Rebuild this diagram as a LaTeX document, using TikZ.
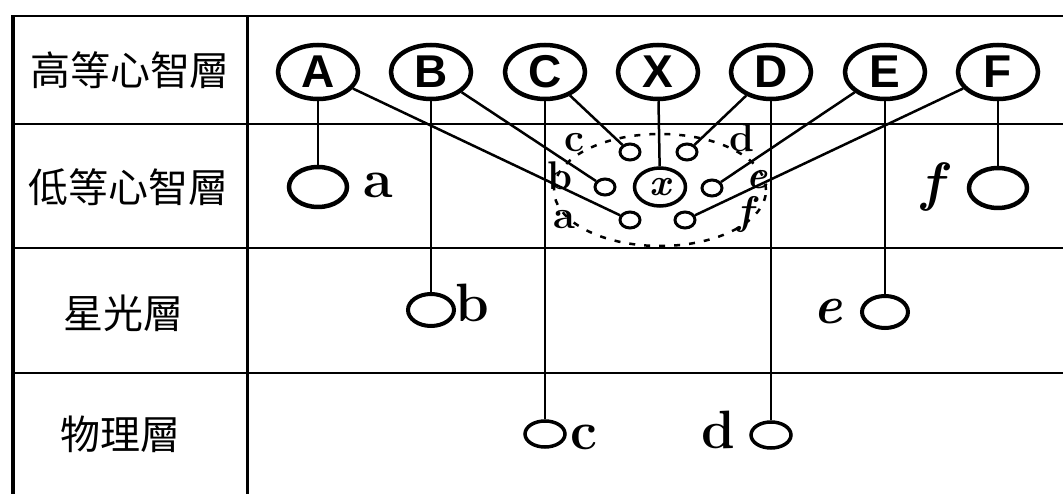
\documentclass[tikz,border=0pt]{standalone}
\usepackage{fontspec}
\newfontfamily\cjk{Noto Sans CJK TC}
\newfontfamily\capsf{Liberation Sans}
\usetikzlibrary{shapes.geometric}

\begin{document}
\begin{tikzpicture}[x=1pt,y=-1pt,
  big/.style={ellipse,draw,line width=4.5pt,minimum width=80pt,minimum height=54pt,inner sep=0pt,font=\capsf\bfseries\fontsize{46}{46}\selectfont},
  mid/.style={ellipse,draw,line width=4.5pt,minimum width=58pt,minimum height=40pt,inner sep=0pt},
  low/.style={ellipse,draw,line width=4pt,minimum width=46pt,minimum height=32pt,inner sep=0pt},
  bot/.style={ellipse,draw,line width=3.5pt,minimum width=40pt,minimum height=26pt,inner sep=0pt},
  tiny/.style={ellipse,draw,line width=3pt,minimum width=20pt,minimum height=16pt,inner sep=0pt},
  hub/.style={ellipse,draw,line width=3.5pt,minimum width=51pt,minimum height=38pt,inner sep=0pt,font=\bfseries\itshape\fontsize{38}{38}\selectfont},
  lbl/.style={inner sep=0pt,font=\bfseries\fontsize{54}{54}\selectfont},
  slbl/.style={inner sep=0pt,font=\bfseries\fontsize{40}{40}\selectfont},
  layer/.style={inner sep=0pt,font=\cjk\fontsize{40}{40}\selectfont},
  wire/.style={line width=2.5pt}]

  \useasboundingbox (0,0) rectangle (1063,494);

  % table
  \draw[line width=2.5pt] (11,16) -- (1063,16);
  \foreach \y in {124,248,373}
    \draw[line width=2.5pt] (13,\y) -- (1063,\y);
  \draw[line width=3.5pt] (13,16) -- (13,494);
  \draw[line width=3pt] (247,16) -- (247,494);

  \node[layer] (hi) at (130,70) {高等心智層};
  \node[layer] (lo) at (128,187) {低等心智層};
  \node[layer] (astral) at (123,313) {星光層};
  \node[layer] (phys) at (120,434) {物理層};

  % dashed group
  \node[ellipse,draw,dashed,line width=2.5pt,dash pattern=on 6pt off 9pt,minimum width=212pt,minimum height=112pt] (grp) at (660,190) {};

    \node[big] (A) at (318,72) {A};
    \node[big] (B) at (431,72) {B};
    \node[big] (C) at (545,72) {C};
    \node[big] (X) at (658,72) {X};
    \node[big] (D) at (771,72) {D};
    \node[big] (E) at (885,72) {E};
    \node[big] (F) at (998,72) {F};

    \node[mid] (a) at (318,187) {};
    \node[low] (b) at (431,310) {};
    \node[bot] (c) at (545,434) {};
    \node[bot] (d) at (771,435) {};
    \node[low] (e) at (885,312) {};
    \node[mid] (f) at (998,188) {};

    \node[lbl] (ta) at (378,185) {a};
    \node[lbl] (tb) at (472,303) {b};
    \node[lbl] (tc) at (584,437) {c};
    \node[lbl] (td) at (718,430) {d};
    \node[lbl] (te) at (828,312) {\itshape e};
    \node[lbl] (tf) at (932,187) {\itshape f};

    \node[hub] (x) at (660,187) {x};
    \node[tiny] (c2) at (630,152) {};
    \node[tiny] (d2) at (687,152) {};
    \node[tiny] (b2) at (605,187) {};
    \node[tiny] (e2) at (712,188) {};
    \node[tiny] (a2) at (630,220) {};
    \node[tiny] (f2) at (685,220) {};

    \node[slbl] (tc2) at (574,143) {c};
    \node[slbl] (tb2) at (560,176) {b};
    \node[slbl] (ta2) at (564,220) {a};
    \node[slbl] (td2) at (742,138) {d};
    \node[slbl] (te2) at (757,180) {\itshape e};
    \node[slbl] (tf2) at (745,215) {\itshape f};

    \draw[wire] (A) -- (a);
    \draw[wire] (B) -- (b);
    \draw[wire] (C) -- (c);
    \draw[wire] (X) -- (x);
    \draw[wire] (D) -- (d);
    \draw[wire] (E) -- (e);
    \draw[wire] (F) -- (f);

    \draw[wire] (A) -- (a2);
    \draw[wire] (B) -- (b2);
    \draw[wire] (C) -- (c2);
    \draw[wire] (D) -- (d2);
    \draw[wire] (E) -- (e2);
    \draw[wire] (F) -- (f2);

\end{tikzpicture}
\end{document}
